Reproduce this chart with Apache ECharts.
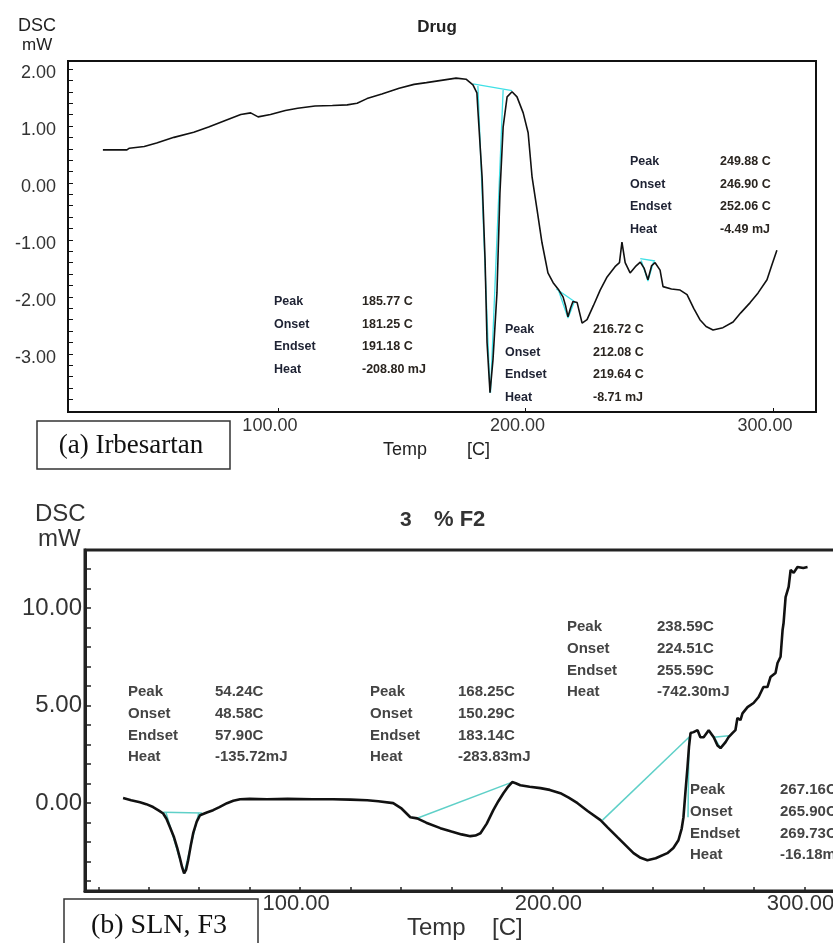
<!DOCTYPE html>
<html>
<head>
<meta charset="utf-8">
<script src="https://cdn.jsdelivr.net/npm/echarts@6/dist/echarts.min.js"></script>
<style>
html, body { margin: 0; padding: 0; background: #fff; }
#container { width: 833px; height: 943px; }
</style>
</head>
<body>
<div id="container"></div>
<script>
// (a) Irbesartan - DSC trace
var drugTemp = [29.3, 35, 39, 40, 46, 51, 58, 66, 72, 79, 85, 89, 92, 97, 103, 108, 115, 122, 128, 132,
	136, 142, 149, 155, 160, 166, 172, 176, 178.8, 180.4, 180.8, 182.5, 183.7, 184.5, 185.7, 186.9, 188.5, 189.7, 191.0, 192.6,
	194.6, 196.6, 199.1, 201.1, 202.7, 204.7, 206.7, 209.1, 211.2, 213.5, 215.2, 216.2, 217.2, 218.2, 219.2, 220.9, 222.9, 224.9, 227.5, 230.2,
	233.0, 236.2, 238.0, 239.0, 240.3, 242.3, 244.4, 246.4, 248.0, 249.5, 251.0, 252.4, 254.4, 255.6, 259.0, 262.5, 265.3, 268.0, 270.5, 273.0,
	275.8, 279.8, 283.9, 287.0, 290.8, 294.0, 297.6, 299.5, 301.6];
var drugDsc = [0.58, 0.58, 0.58, 0.61, 0.64, 0.70, 0.80, 0.89, 0.98, 1.10, 1.20, 1.23, 1.16, 1.20, 1.27, 1.31, 1.35, 1.36, 1.37, 1.40,
	1.48, 1.56, 1.66, 1.73, 1.76, 1.80, 1.84, 1.82, 1.72, 1.58, 1.28, 0.10, -1.35, -2.80, -3.68, -3.10, -1.93, -0.18, 0.98, 1.51,
	1.60, 1.51, 1.23, 0.88, 0.10, -0.47, -1.05, -1.58, -1.75, -1.88, -2.00, -2.15, -2.35, -2.20, -2.08, -2.10, -2.46, -2.40, -2.15, -1.88,
	-1.65, -1.47, -1.40, -1.04, -1.40, -1.58, -1.47, -1.39, -1.50, -1.70, -1.45, -1.40, -1.53, -1.82, -1.86, -1.88, -1.96, -2.20, -2.40, -2.52,
	-2.58, -2.54, -2.44, -2.28, -2.10, -1.93, -1.70, -1.45, -1.18];

// cyan baselines / tangents of the analysed peaks
var drugCyan = [
	[[178.8, 1.74], [194.6, 1.62]],
	[[180.8, 1.70], [185.7, -3.68]],
	[[191.0, 1.63], [185.9, -3.68]],
	[[212.5, -1.86], [219.8, -2.08]],
	[[213.5, -1.90], [217.2, -2.37], [219.8, -2.08]],
	[[246.4, -1.33], [252.4, -1.37]],
	[[246.8, -1.36], [249.5, -1.72], [251.8, -1.38]]
];

// (b) SLN, F3
var slnTemp = [29.8, 33, 36.5, 39, 41.7, 44, 45.7, 47, 48.4, 50, 51.2, 52.3, 53.2, 54.0, 54.8, 55.6, 56.6, 57.6, 59, 60.3,
	63, 65.5, 68, 71, 73.5, 76.2, 80, 86.9, 95, 105, 113, 120, 126.6, 131, 136.9, 140, 143.7, 146.4, 150, 155.6,
	160, 164, 167.5, 169.5, 171.5, 174, 176.6, 178.6, 180.6, 182.5, 184.1, 185.5, 187.3, 191, 195.3, 199, 203.2, 206.5, 210, 214,
	219.1, 222, 225.8, 229, 232.2, 235, 237.7, 241, 245.6, 248, 250, 251.3, 252, 252.8, 253.6, 254.2, 254.8, 256, 257.6, 258.7,
	260, 262, 264, 265.5, 266.7, 268.7, 269.9, 271.5, 272.6, 273.4, 274.6, 275.4, 277.4, 279.8, 281.8, 283.7, 285.3, 286.5, 288.5, 289.3,
	290.5, 291.3, 291.7, 292.5, 293.7, 294.5, 295.7, 297.2, 299.5, 301.2];
var slnDsc = [0.26, 0.15, 0.05, -0.05, -0.20, -0.38, -0.53, -0.80, -1.23, -1.75, -2.26, -2.80, -3.28, -3.60, -3.40, -2.92, -2.20, -1.54, -0.95, -0.62,
	-0.48, -0.36, -0.20, 0.00, 0.12, 0.20, 0.22, 0.20, 0.22, 0.20, 0.20, 0.18, 0.15, 0.10, 0.00, -0.25, -0.72, -0.78, -1.00, -1.28,
	-1.45, -1.60, -1.69, -1.66, -1.54, -1.05, -0.36, 0.10, 0.51, 0.85, 1.08, 1.02, 0.92, 0.84, 0.77, 0.68, 0.51, 0.28, 0.00, -0.40,
	-0.87, -1.25, -1.74, -2.15, -2.56, -2.80, -2.92, -2.82, -2.56, -2.30, -1.90, -1.30, -0.72, 0.60, 1.85, 2.90, 3.59, 3.64, 3.74, 3.38,
	3.38, 3.74, 3.38, 2.95, 2.82, 3.13, 3.38, 3.60, 3.74, 4.36, 4.26, 4.60, 4.92, 5.13, 5.44, 5.95, 5.95, 6.46, 6.67, 7.18,
	7.50, 8.87, 9.23, 10.56, 11.08, 11.95, 11.80, 12.10, 12.05, 12.10];

var slnCyan = [
	[[45.7, -0.46], [61.1, -0.51]],
	[[46.8, -0.48], [54.0, -3.60], [59.8, -0.50]],
	[[146.4, -0.77], [184.1, 1.08]],
	[[219.9, -0.87], [254.8, 3.45]],
	[[254.2, 3.38], [253.8, -0.72]],
	[[264.0, 3.38], [269.9, 3.45]],
	[[264.5, 3.30], [266.7, 2.82], [269.5, 3.30]]
];

var rowNames = ['Peak', 'Onset', 'Endset', 'Heat'];
var drugPeaks = [
	['249.88 C', '246.90 C', '252.06 C', '-4.49 mJ'],
	['185.77 C', '181.25 C', '191.18 C', '-208.80 mJ'],
	['216.72 C', '212.08 C', '219.64 C', '-8.71 mJ']
];
var slnPeaks = [
	['54.24C', '48.58C', '57.90C', '-135.72mJ'],
	['168.25C', '150.29C', '183.14C', '-283.83mJ'],
	['238.59C', '224.51C', '255.59C', '-742.30mJ'],
	['267.16C', '265.90C', '269.73C', '-16.18mJ']
];

var xLabels = [100, 200, 300];
var yLabelsTop = [-3, -2, -1, 0, 1, 2];
var yLabelsBot = [0, 5, 10];

function zip(a, b) {
	var out = [];
	for (var i = 0; i < a.length; i++) out.push([a[i], b[i]]);
	return out;
}
function steps(from, to, step) {
	var out = [];
	for (var v = from; v <= to + 1e-9; v += step) out.push(Math.round(v * 10) / 10);
	return out;
}

var dom = document.getElementById('container');
var myChart = echarts.init(dom, null, { renderer: 'canvas' });

var fontSans = '"Liberation Sans", Arial, sans-serif';
var fontSerif = '"Liberation Serif", "Times New Roman", serif';

function txt(x, y, s, font, color, align) {
	return {
		type: 'text', x: x, y: y, z: 10,
		style: { text: s, font: font, fill: color || '#222', textAlign: align || 'left', textVerticalAlign: 'middle' }
	};
}

var graphics = [];
// axis names + titles
graphics.push(txt(18, 26, 'DSC', '18px ' + fontSans, '#222'));
graphics.push(txt(22, 45, 'mW', '17px ' + fontSans, '#222'));
graphics.push(txt(437, 27, 'Drug', 'bold 17px ' + fontSans, '#222', 'center'));
graphics.push(txt(383, 450, 'Temp', '18px ' + fontSans, '#222'));
graphics.push(txt(467, 450, '[C]', '18px ' + fontSans, '#222'));

graphics.push(txt(35, 514, 'DSC', '24px ' + fontSans, '#333'));
graphics.push(txt(38, 539, 'mW', '24px ' + fontSans, '#333'));
graphics.push(txt(400, 520, '3', 'bold 21px ' + fontSans, '#333'));
graphics.push(txt(434, 520, '% F2', 'bold 22px ' + fontSans, '#333'));
graphics.push(txt(407, 928, 'Temp', '24px ' + fontSans, '#333'));
graphics.push(txt(492, 928, '[C]', '24px ' + fontSans, '#333'));

// peak tables
var drugPos = [[630, 162, 90], [274, 302, 88], [505, 330, 88]];
drugPeaks.forEach(function (vals, k) {
	for (var r = 0; r < 4; r++) {
		graphics.push(txt(drugPos[k][0], drugPos[k][1] + r * 22.5, rowNames[r], 'bold 12.5px ' + fontSans, '#1e2233'));
		graphics.push(txt(drugPos[k][0] + drugPos[k][2], drugPos[k][1] + r * 22.5, vals[r], 'bold 12.5px ' + fontSans, '#2a2520'));
	}
});
var slnPos = [[128, 692, 87], [370, 692, 88], [567, 627, 90], [690, 790, 90]];
slnPeaks.forEach(function (vals, k) {
	for (var r = 0; r < 4; r++) {
		graphics.push(txt(slnPos[k][0], slnPos[k][1] + r * 21.7, rowNames[r], 'bold 15px ' + fontSans, '#444'));
		graphics.push(txt(slnPos[k][0] + slnPos[k][2], slnPos[k][1] + r * 21.7, vals[r], 'bold 15px ' + fontSans, '#444'));
	}
});

// caption boxes
graphics.push({ type: 'rect', z: 9, shape: { x: 37, y: 421, width: 193, height: 48 }, style: { fill: '#fff', stroke: '#333', lineWidth: 1.5 } });
graphics.push(txt(131, 446, '(a) Irbesartan', '27px ' + fontSerif, '#111', 'center'));
graphics.push({ type: 'rect', z: 9, shape: { x: 64, y: 899, width: 194, height: 60 }, style: { fill: '#fff', stroke: '#333', lineWidth: 1.5 } });
graphics.push(txt(159, 926, '(b) SLN, F3', '28px ' + fontSerif, '#111', 'center'));

function lineSeries(data, xi, color, width, z) {
	return {
		type: 'line', xAxisIndex: xi, yAxisIndex: xi, data: data,
		symbol: 'none', silent: true, z: z,
		lineStyle: { color: color, width: width }
	};
}

var series = [];
drugCyan.forEach(function (seg) { series.push(lineSeries(seg, 0, '#3fe0e6', 1.3, 2)); });
series.push(lineSeries(zip(drugTemp, drugDsc), 0, '#111', 1.6, 3));
slnCyan.forEach(function (seg) { series.push(lineSeries(seg, 1, '#5fd0c8', 1.5, 2)); });
series.push(lineSeries(zip(slnTemp, slnDsc), 1, '#111', 2.6, 3));

var option = {
	backgroundColor: '#fff',
	animation: false,
	grid: [
		{ left: 68, top: 61, width: 748, height: 351, outerBoundsMode: 'none', show: true, borderColor: '#111', borderWidth: 2, backgroundColor: 'transparent' },
		{ left: 85, top: 550, width: 775, height: 341, outerBoundsMode: 'none', show: true, borderColor: '#222', borderWidth: 3, backgroundColor: 'transparent' }
	],
	xAxis: [
		{
			gridIndex: 0, type: 'value', min: 15.2, max: 317.4,
			axisLine: { onZero: false, lineStyle: { color: '#111', width: 2 } },
			axisTick: { inside: true, length: 4, customValues: xLabels, lineStyle: { color: '#111' } },
			axisLabel: {
				customValues: xLabels, margin: 5, fontSize: 18, color: '#333', fontFamily: fontSans,
				padding: [0, 16, 0, 0],
				formatter: function (v) { return v.toFixed(2); }
			},
			splitLine: { show: false }
		},
		{
			gridIndex: 1, type: 'value', min: 14.7, max: 322,
			axisLine: { onZero: false, lineStyle: { color: '#222', width: 3 } },
			axisTick: { inside: true, length: 4, customValues: steps(20, 320, 20), lineStyle: { color: '#222', width: 1.5 } },
			axisLabel: {
				customValues: xLabels, margin: 2, fontSize: 22, color: '#333', fontFamily: fontSans,
				padding: [0, 8, 0, 0],
				formatter: function (v) { return v.toFixed(2); }
			},
			splitLine: { show: false }
		}
	],
	yAxis: [
		{
			gridIndex: 0, type: 'value', min: -4.02, max: 2.14,
			axisLine: { onZero: false, lineStyle: { color: '#111', width: 2 } },
			axisTick: { inside: true, length: 5, customValues: steps(-3.8, 2.0, 0.2), lineStyle: { color: '#111' } },
			axisLabel: {
				customValues: yLabelsTop, margin: 12, fontSize: 18, color: '#333', fontFamily: fontSans,
				verticalAlign: 'top', lineHeight: 9,
				formatter: function (v) { return v.toFixed(2); }
			},
			splitLine: { show: false }
		},
		{
			gridIndex: 1, type: 'value', min: -4.5, max: 12.97,
			axisLine: { onZero: false, lineStyle: { color: '#222', width: 3 } },
			axisTick: { inside: true, length: 6, customValues: steps(-4, 12, 1), lineStyle: { color: '#222', width: 1.5 } },
			axisLabel: {
				customValues: yLabelsBot, margin: 3, fontSize: 24, color: '#333', fontFamily: fontSans,
				formatter: function (v) { return v.toFixed(2); }
			},
			splitLine: { show: false }
		}
	],
	graphic: graphics,
	series: series
};

myChart.setOption(option, true);
</script>
</body>
</html>
